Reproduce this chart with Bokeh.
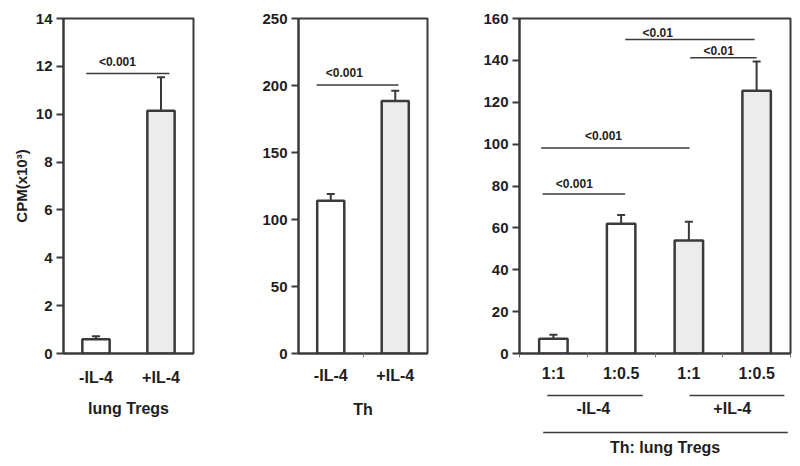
from bokeh.plotting import figure
from bokeh.models import Range1d, FixedTicker, ColumnDataSource, Whisker, TeeHead
from bokeh.layouts import row, column
from bokeh.embed import file_html
from bokeh.resources import INLINE
from bokeh.core.properties import value

# ---------------- data ----------------
lung_groups = ["-IL-4", "+IL-4"]
lung_mean = [0.6, 10.15]
lung_sem = [0.12, 1.4]

th_groups = ["-IL-4", "+IL-4"]
th_mean = [114, 188.5]
th_sem = [5, 7.5]

ratio_labels = ["1:1", "1:0.5", "1:1", "1:0.5"]
ratio_il4 = ["-IL-4", "-IL-4", "+IL-4", "+IL-4"]
ratio_mean = [7, 62, 54, 125.5]
ratio_sem = [1.9, 4.2, 8.9, 14]

# significance annotations: text, line start, line end, line level, text x, text y
lung_sig = [("<0.001", 0.35, 1.63, 11.7, 0.83, 12.2)]
th_sig = [("<0.001", 0.28, 1.55, 200.4, 0.71, 209)]
ratio_sig = [
    ("<0.01", 1.56, 3.47, 150, 2.04, 153.3),
    ("<0.01", 2.52, 3.50, 141.3, 2.94, 144.7),
    ("<0.001", 0.32, 2.51, 98.2, 1.24, 104),
    ("<0.001", 0.34, 1.56, 76.2, 0.81, 81),
]

# grouping brackets under the right panel (x in category units, y in px from strip top)
group_names = ["-IL-4", "+IL-4"]
group_spans = [(0.41, 1.82), (2.51, 3.91)]
group_title = "Th: lung Tregs"

FONT = "Liberation Sans"
DARK = "#3a3a3a"
TXT = "#1e1e1e"
GRAY_FILL = "#ececec"


def make_panel(groups, means, sems, sigs, ymax, ystep, width, height,
               bl, bt, br, bb, ylabel=None, minor=None, label_standoff=15):
    n = len(means)
    p = figure(width=width, height=height, output_backend="svg", toolbar_location=None,
               x_range=Range1d(0, n), y_range=Range1d(0, ymax),
               min_border_left=bl, min_border_top=bt, min_border_right=br,
               min_border_bottom=bb)
    p.xgrid.visible = False
    p.ygrid.visible = False
    p.outline_line_color = DARK
    p.outline_line_width = 2
    p.outline_line_alpha = 1
    p.background_fill_color = "white"
    p.border_fill_color = "white"

    xs = [i + 0.5 for i in range(n)]
    fills = ["white" if g.startswith("-") else GRAY_FILL for g in groups]
    src = ColumnDataSource(dict(x=xs, top=means, upper=[m + s for m, s in zip(means, sems)],
                                fill=fills))
    p.vbar(x="x", top="top", width=0.42, source=src, fill_color="fill",
           line_color=DARK, line_width=2.5)
    p.add_layout(Whisker(base="x", lower="top", upper="upper", source=src,
                         line_color=DARK, line_width=2, lower_head=None,
                         upper_head=TeeHead(size=8, line_color=DARK, line_width=2)))

    sig_src = ColumnDataSource(dict(
        t=[s[0] for s in sigs], x0=[s[1] for s in sigs], x1=[s[2] for s in sigs],
        y=[s[3] for s in sigs], tx=[s[4] for s in sigs], ty=[s[5] for s in sigs]))
    p.segment(x0="x0", y0="y", x1="x1", y1="y", source=sig_src, line_color=DARK,
              line_width=1.5)
    p.text(x="tx", y="ty", text="t", source=sig_src, text_font=value(FONT),
           text_font_style="bold", text_font_size="12px", text_align="center",
           text_baseline="middle", text_color=TXT)

    ya = p.yaxis[0]
    ya.ticker = FixedTicker(ticks=list(range(0, ymax + 1, ystep)), minor_ticks=[])
    ya.axis_line_color = DARK
    ya.axis_line_width = 2
    ya.major_tick_line_color = DARK
    ya.major_tick_line_width = 2
    ya.major_tick_out = 7
    ya.major_tick_in = 0
    ya.minor_tick_line_color = None
    ya.major_label_standoff = 4
    ya.major_label_text_font = FONT
    ya.major_label_text_font_style = "bold"
    ya.major_label_text_font_size = "15px"
    ya.major_label_text_color = TXT
    if ylabel:
        ya.axis_label = ylabel
        ya.axis_label_text_font = FONT
        ya.axis_label_text_font_style = "bold"
        ya.axis_label_text_font_size = "15px"
        ya.axis_label_text_color = TXT
        ya.axis_label_standoff = 3

    xa = p.xaxis[0]
    xa.ticker = FixedTicker(ticks=xs, minor_ticks=minor if minor else [])
    xa.major_label_overrides = {x: lab for x, lab in zip(xs, groups)}
    xa.axis_line_color = DARK
    xa.axis_line_width = 2
    xa.major_tick_line_color = None
    xa.major_tick_out = 0
    xa.major_tick_in = 0
    xa.minor_tick_line_color = "#777777"
    xa.minor_tick_line_width = 1
    xa.minor_tick_out = 4 if minor else 0
    xa.minor_tick_in = 0
    xa.major_label_standoff = label_standoff
    xa.major_label_text_font = FONT
    xa.major_label_text_font_style = "bold"
    xa.major_label_text_font_size = "16px"
    xa.major_label_text_color = TXT
    xa.axis_label_text_font = FONT
    xa.axis_label_text_font_style = "bold"
    xa.axis_label_text_font_size = "16px"
    xa.axis_label_text_color = TXT
    return p


p1 = make_panel(lung_groups, lung_mean, lung_sem, lung_sig, 14, 2,
                240, 466, 63, 18, 47, 113, ylabel="CPM(x10³)", label_standoff=15)
p1.xaxis[0].axis_label = "lung Tregs"
p1.xaxis[0].axis_label_standoff = 11

p2 = make_panel(th_groups, th_mean, th_sem, th_sig, 250, 50,
                215, 466, 58, 18, 28, 113, minor=[1], label_standoff=9)
p2.xaxis[0].axis_label = "Th"
p2.xaxis[0].axis_label_standoff = 14

p3 = make_panel(ratio_il4, ratio_mean, ratio_sem, ratio_sig, 160, 20,
                343, 388, 64, 18, 8, 35, minor=[0, 1, 2, 3, 4], label_standoff=7)
p3.xaxis[0].major_label_overrides = {i + 0.5: lab for i, lab in enumerate(ratio_labels)}

# strip under the right panel holding the group brackets
strip = figure(width=343, height=78, output_backend="svg", toolbar_location=None,
               x_range=Range1d(0, 4), y_range=Range1d(78, 0),
               x_axis_location=None, y_axis_location=None,
               min_border_left=64, min_border_right=8, min_border_top=0, min_border_bottom=0)
strip.outline_line_color = None
strip.xgrid.visible = False
strip.ygrid.visible = False
br_src = ColumnDataSource(dict(
    x0=[s[0] for s in group_spans] + [group_spans[0][0] - 0.06],
    x1=[s[1] for s in group_spans] + [group_spans[1][1] + 0.05],
    y=[7, 7, 44]))
strip.segment(x0="x0", y0="y", x1="x1", y1="y", source=br_src, line_color=DARK, line_width=1.5)
lab_src = ColumnDataSource(dict(
    t=group_names + [group_title],
    x=[1.09, 3.14, 2.15],
    y=[20, 20, 59]))
strip.text(x="x", y="y", text="t", source=lab_src, text_font=value(FONT),
           text_font_style="bold", text_font_size="16px", text_align="center",
           text_baseline="middle", text_color=TXT)

layout = row(p1, p2, column(p3, strip))
open("out.html", "w").write(file_html(layout, INLINE))
